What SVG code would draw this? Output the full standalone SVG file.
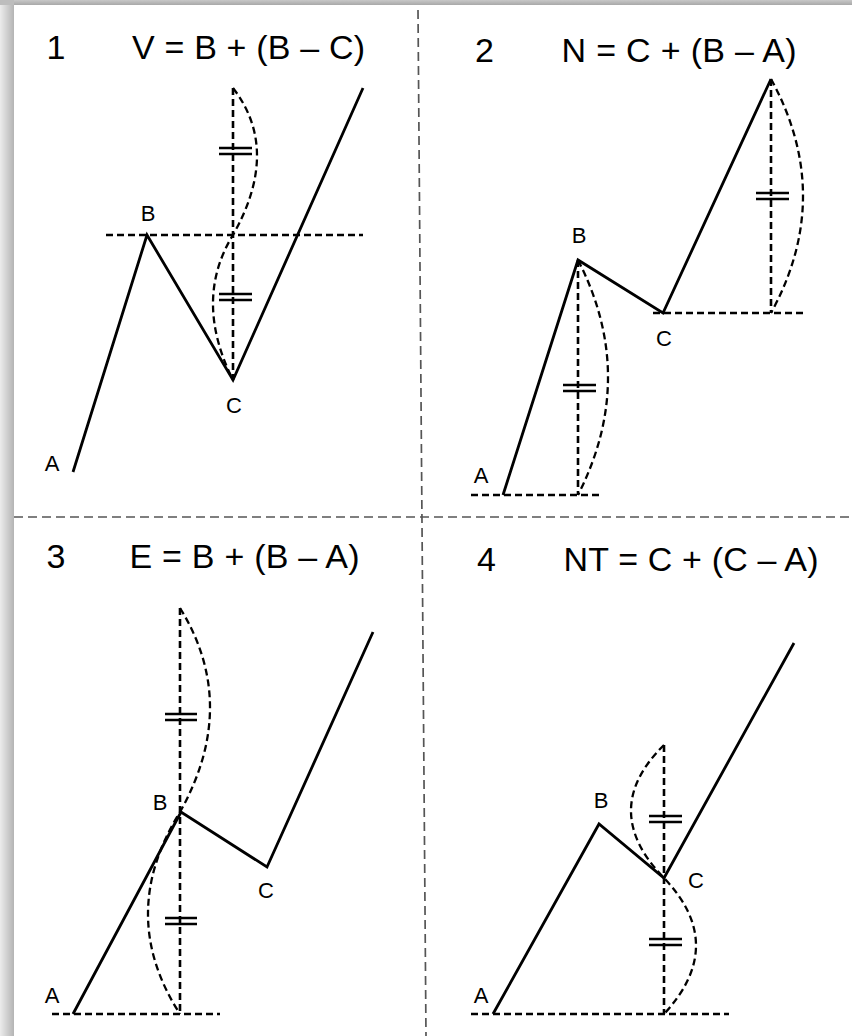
<svg xmlns="http://www.w3.org/2000/svg" width="852" height="1036" viewBox="0 0 852 1036">
<defs>
<linearGradient id="shL" x1="0" y1="0" x2="1" y2="0">
<stop offset="0" stop-color="#ececec"/>
<stop offset="1" stop-color="#b4b4b4"/>
</linearGradient>
<linearGradient id="shT" x1="0" y1="0" x2="0" y2="1">
<stop offset="0" stop-color="#c8c8c8"/>
<stop offset="1" stop-color="#a8a8a8"/>
</linearGradient>
</defs>
<style>
.solid{fill:none;stroke:#000;stroke-width:2.8;stroke-linejoin:miter;stroke-linecap:butt}
.dash{fill:none;stroke:#000;stroke-width:2.6;stroke-dasharray:7 4}
.curve{fill:none;stroke:#000;stroke-width:2.3;stroke-dasharray:7 4}
.eq{fill:none;stroke:#000;stroke-width:2.4}
.div{fill:none;stroke:#555;stroke-width:1.7;stroke-dasharray:9 5}
.num{font-family:"Liberation Sans",Arial,sans-serif;font-size:34px;fill:#000}
.lbl{font-family:"Liberation Sans",Arial,sans-serif;font-size:22px;fill:#000;text-anchor:middle}
</style>
<rect x="0" y="0" width="852" height="1036" fill="#fff"/>
<rect x="0" y="0" width="14" height="1036" fill="url(#shL)"/>
<rect x="0" y="0" width="852" height="5" fill="url(#shT)"/>
<rect x="0" y="0" width="14" height="5" fill="#bdbdbd"/>

<g id="dividers">
<path class="div" d="M418,10 L426,1036"/>
<path class="div" d="M14,517 L852,517"/>
</g>

<g id="panel1">
<text class="num" x="46.5" y="59">1</text>
<text class="num" x="132" y="59" textLength="233" lengthAdjust="spacing">V = B + (B – C)</text>
<text class="lbl" x="148" y="221">B</text>
<text class="lbl" x="234" y="413">C</text>
<text class="lbl" x="52" y="471">A</text>
</g>
<g id="panel2">
<text class="num" x="475" y="62">2</text>
<text class="num" x="561.5" y="62" textLength="235" lengthAdjust="spacing">N = C + (B – A)</text>
<text class="lbl" x="579" y="243">B</text>
<text class="lbl" x="664" y="346">C</text>
<text class="lbl" x="481" y="483">A</text>
</g>
<g id="panel3">
<text class="num" x="46.5" y="568">3</text>
<text class="num" x="129.5" y="568" textLength="230" lengthAdjust="spacing">E = B + (B – A)</text>
<text class="lbl" x="160" y="810">B</text>
<text class="lbl" x="266" y="898">C</text>
<text class="lbl" x="52" y="1003">A</text>
</g>
<g id="panel4">
<text class="num" x="477" y="571">4</text>
<text class="num" x="563.5" y="571" textLength="255" lengthAdjust="spacing">NT = C + (C – A)</text>
<text class="lbl" x="601" y="808">B</text>
<text class="lbl" x="696" y="888">C</text>
<text class="lbl" x="481" y="1003">A</text>
</g>

<g id="connectors">
<!-- panel 1 -->
<path class="dash" d="M106,235 L363,235"/>
<path class="dash" d="M233,88 L233,380"/>
<path class="curve" d="M233,88 Q281,150 233,235 Q193,300 233,380"/>
<path class="eq" d="M219,148 L252,148 M219,154 L252,154 M219,294 L252,294 M219,300 L252,300"/>
<path class="solid" d="M73,472 L147,235 L233,380 L363,88"/>
<!-- panel 2 -->
<path class="dash" d="M471,495 L599,495"/>
<path class="dash" d="M653,313 L803,313"/>
<path class="dash" d="M578,260 L578,495"/>
<path class="dash" d="M771,79 L771,313"/>
<path class="curve" d="M578,260 Q638,377 578,495"/>
<path class="curve" d="M771,79 Q835,196 771,313"/>
<path class="eq" d="M563,385 L596,385 M563,391 L596,391 M756,193 L789,193 M756,199 L789,199"/>
<path class="solid" d="M503,495 L578,260 L663,313 L771,79"/>
<!-- panel 3 -->
<path class="dash" d="M52,1014 L220,1014"/>
<path class="dash" d="M180,608 L180,1014"/>
<path class="curve" d="M180,608 Q240,705 180,812 Q116,915 180,1014"/>
<path class="eq" d="M165,714 L197,714 M165,720 L197,720 M165,918 L197,918 M165,924 L197,924"/>
<path class="solid" d="M73,1014 L181,812 L267,867 L373,632"/>
<!-- panel 4 -->
<path class="dash" d="M471,1014 L729,1014"/>
<path class="dash" d="M664,745 L664,1014"/>
<path class="curve" d="M664,745 Q598,810 664,878 Q728,945 664,1014"/>
<path class="eq" d="M649,816 L682,816 M649,822 L682,822 M649,939 L682,939 M649,945 L682,945"/>
<path class="solid" d="M493,1014 L599,824 L664,878 L794,643"/>
</g>
</svg>
